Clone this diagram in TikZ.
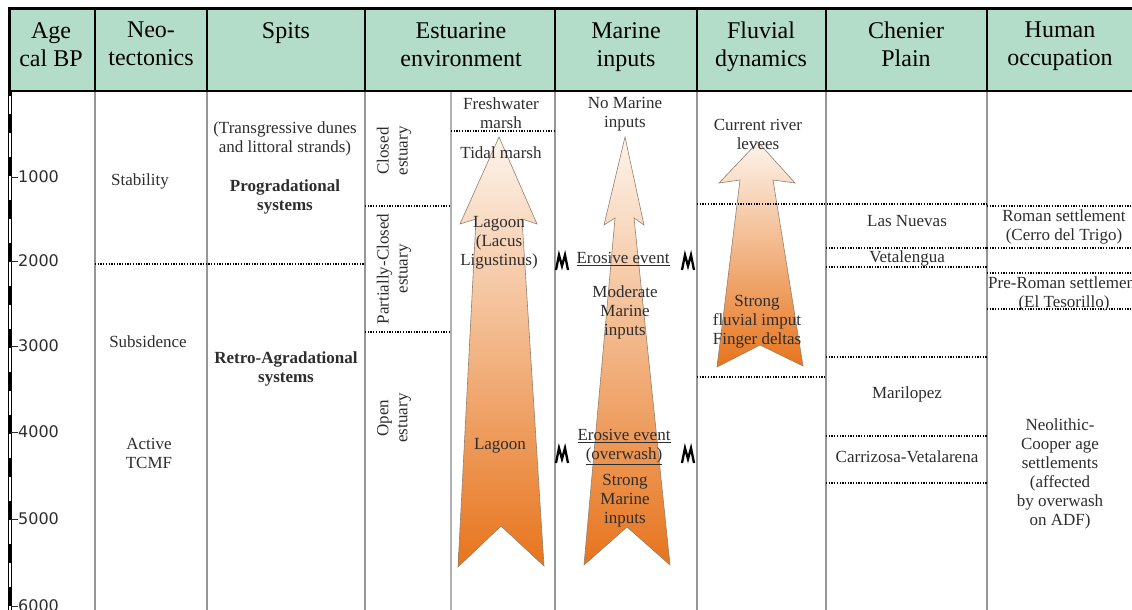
\documentclass[tikz,border=0pt]{standalone}
\usepackage{fontspec}
\setmainfont{Liberation Serif}
\newfontfamily\axisfont{DejaVu Sans}
\usepackage{tikz}
\definecolor{headgreen}{RGB}{180,221,201}
\definecolor{arrowlight}{RGB}{253,244,236}
\definecolor{arroworange}{RGB}{231,116,28}
\definecolor{rulegray}{RGB}{150,150,150}
\definecolor{inkgray}{RGB}{45,45,45}
\tikzstyle{headtext} = [anchor=north, align=center, inner sep=0pt,
    font=\fontsize{24}{28}\selectfont]
\tikzstyle{celltext} = [align=center, inner sep=0pt, text=inkgray,
    font=\fontsize{17}{19}\selectfont]
\tikzstyle{boldtext} = [celltext, font=\fontsize{17}{19}\selectfont\bfseries]
\tikzstyle{agelabel} = [anchor=west, inner sep=0pt, text=inkgray,
    font=\axisfont\fontsize{16}{18}\selectfont]
\tikzstyle{rowline} = [line width=1.3pt, dash pattern=on 1.3pt off 1.4pt]
\tikzstyle{colline} = [draw=rulegray, line width=1.2pt]
\tikzstyle{trendarrow} = [draw=gray!70!brown, line width=0.6pt,
    top color=arrowlight, bottom color=arroworange]
\tikzstyle{erosion} = [line width=2.3pt, line join=miter]

\begin{document}
\begin{tikzpicture}[x=1pt,y=-1pt]
\useasboundingbox (0,0) rectangle (1132,610);
\clip (0,0) rectangle (1132,610);

% header band
\fill[headgreen] (10,9) rectangle (1132,91);
\foreach \cx in {95,207,365,555,697,826,987}
    \draw[colline] (\cx,91) -- (\cx,610);
\draw[colline, draw=rulegray!75] (451,91) -- (451,610);
\foreach \cx in {95,207,365,555,697,826,987}
    \draw[line width=2.4pt] (\cx,8.5) -- (\cx,91);
\draw[line width=2.4pt] (8,8.5) -- (1132,8.5) (8,91) -- (1132,91);
\draw[line width=2.4pt] (9.5,7.3) -- (9.5,91);

\node[headtext] (agehd) at (51,22) {Age\\cal BP};
\node[headtext] (neohd) at (151,22) {Neo-\\tectonics};
\node[headtext] (spithd) at (286,22) {Spits};
\node[headtext] (estuhd) at (461,22) {Estuarine\\environment};
\node[headtext] (marhd) at (626,22) {Marine\\inputs};
\node[headtext] (fluvhd) at (761,22) {Fluvial\\dynamics};
\node[headtext] (chenhd) at (906,22) {Chenier\\Plain};
\node[headtext] (humhd) at (1060,22) {Human\\occupation};

% age scale
\draw[line width=4.5pt] (10,91) -- (10,610);
\draw[white, line width=1.4pt, dash pattern=on 24pt off 19pt, dash phase=6pt]
    (10,96) -- (10,610);
\foreach \val/\ty in {1000/177,2000/261,3000/346,4000/432,5000/519,6000/606}{
    \draw[line width=1pt, draw=inkgray] (11,\ty) -- (18,\ty);
    \node[agelabel] (age\val) at (18,\ty) {\val};
}

% trend arrows
\path[trendarrow] (499,137) -- (537,224) -- (522,219) -- (544,566) -- (501,526)
    -- (458,567) -- (476,219) -- (460,224) -- cycle;
\path[trendarrow] (625,137) -- (644,225) -- (634,218) -- (670,565) -- (627,527)
    -- (584,565) -- (615,218) -- (604,225) -- cycle;
\path[trendarrow] (758,142) -- (795,183) -- (773,180) -- (803,366) -- (760,345)
    -- (717,367) -- (740,180) -- (719,183) -- cycle;

% row limits
\draw[rowline] (95,264) -- (365,264);
\draw[rowline] (365,206) -- (451,206) (365,332) -- (451,332);
\draw[rowline] (451,131) -- (555,131);
\draw[rowline] (697,204) -- (987,204) (697,377) -- (826,377);
\foreach \ry in {248,267,357,436,483}
    \draw[rowline] (826,\ry) -- (987,\ry);
\foreach \ry in {206,248,273,309}
    \draw[rowline] (987,\ry) -- (1132,\ry);

% neotectonics and spits
\node[celltext] (stab) at (140,181) {Stability};
\node[celltext] (subs) at (148,342) {Subsidence};
\node[celltext] (tcmf) at (149,453) {Active\\TCMF};
\node[celltext] (dunes) at (285,139) {(Transgressive dunes\\and littoral strands)};
\node[boldtext] (prog) at (285,197) {Progradational\\systems};
\node[boldtext] (retro) at (286,369) {Retro-Agradational\\systems};

% estuarine environment
\node[celltext, rotate=90] (closed) at (394,151) {Closed\\estuary};
\node[celltext, rotate=90] (partial) at (394,269) {Partially-Closed\\estuary};
\node[celltext, rotate=90] (open) at (394,418) {Open\\estuary};
\node[celltext] (fresh) at (501,113) {Freshwater\\marsh};
\node[celltext] (tidal) at (501,153) {Tidal marsh};
\node[celltext] (lacus) at (499,243) {Lagoon\\(Lacus\\Ligustinus)};
\node[celltext] (lagoon) at (500,446) {Lagoon};

% marine inputs
\node[celltext] (nomar) at (625,114) {No Marine\\inputs};
\node[celltext] (eros1) at (623,259) {\underline{Erosive event}};
\node[celltext] (modmar) at (625,312) {Moderate\\Marine\\inputs};
\node[celltext] (eros2) at (624,447) {\underline{Erosive event}\\\underline{(overwash)}};
\node[celltext] (strmar) at (625,501) {Strong\\Marine\\inputs};
\foreach \ex/\ey in {562/262,688/262,562/455,688/455}
    \draw[erosion] (\ex-6,\ey+8) -- (\ex-3,\ey-7) -- (\ex,\ey+4) -- (\ex+3,\ey-7)
        -- (\ex+6,\ey+8);

% fluvial dynamics
\node[celltext] (levee) at (758,134) {Current river\\levees};
\node[celltext] (fingr) at (757,322) {Strong\\fluvial imput\\Finger deltas};

% chenier plain
\node[celltext] (nuevas) at (907,221) {Las Nuevas};
\node[celltext] (vetal) at (907,258) {Vetalengua};
\node[celltext] (maril) at (907,394) {Marilopez};
\node[celltext] (carriz) at (907,457) {Carrizosa-Vetalarena};

% human occupation
\node[celltext] (roman) at (1064,227) {Roman settlement\\(Cerro del Trigo)};
\node[celltext] (preroman) at (1064,294) {Pre-Roman settlement\\(El Tesorillo)};
\node[celltext] (neolith) at (1060,474) {Neolithic-\\Cooper age\\settlements\\(affected\\by overwash\\on ADF)};
\end{tikzpicture}
\end{document}
